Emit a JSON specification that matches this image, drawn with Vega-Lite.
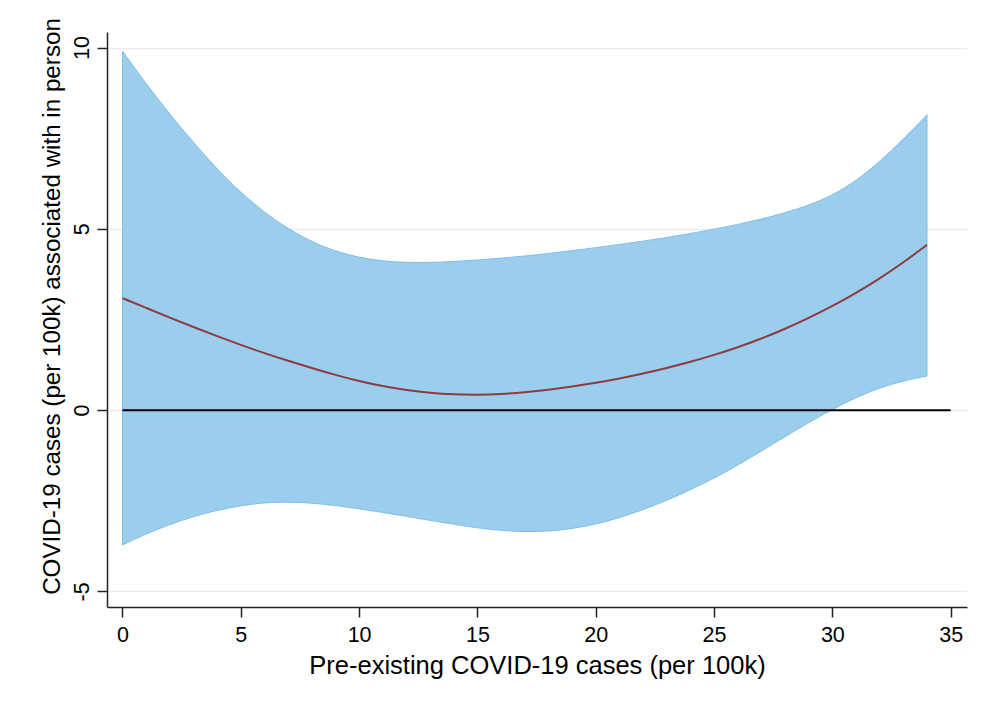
{
  "$schema": "https://vega.github.io/schema/vega-lite/v6.json",
  "width": 860,
  "height": 575,
  "autosize": "none",
  "padding": {"left": 107, "top": 32, "right": 14, "bottom": 112},
  "background": "white",
  "config": {"view": {"stroke": null}, "font": "Liberation Sans"},
  "datasets": {
    "band": [
      {"x": 0, "lo": -3.72, "hi": 9.9, "fit": 3.09},
      {"x": 1, "lo": -3.41, "hi": 9.0, "fit": 2.82},
      {"x": 2, "lo": -3.15, "hi": 8.16, "fit": 2.55},
      {"x": 3, "lo": -2.93, "hi": 7.38, "fit": 2.29},
      {"x": 4, "lo": -2.76, "hi": 6.64, "fit": 2.04},
      {"x": 5, "lo": -2.63, "hi": 6.0, "fit": 1.8},
      {"x": 6, "lo": -2.55, "hi": 5.45, "fit": 1.57},
      {"x": 7, "lo": -2.53, "hi": 5.0, "fit": 1.36},
      {"x": 8, "lo": -2.56, "hi": 4.64, "fit": 1.16},
      {"x": 9, "lo": -2.63, "hi": 4.38, "fit": 0.97},
      {"x": 10, "lo": -2.72, "hi": 4.21, "fit": 0.8},
      {"x": 11, "lo": -2.82, "hi": 4.11, "fit": 0.66},
      {"x": 12, "lo": -2.93, "hi": 4.07, "fit": 0.55},
      {"x": 13, "lo": -3.04, "hi": 4.07, "fit": 0.47},
      {"x": 14, "lo": -3.15, "hi": 4.1, "fit": 0.43},
      {"x": 15, "lo": -3.25, "hi": 4.14, "fit": 0.42},
      {"x": 16, "lo": -3.32, "hi": 4.19, "fit": 0.44},
      {"x": 17, "lo": -3.36, "hi": 4.25, "fit": 0.49},
      {"x": 18, "lo": -3.34, "hi": 4.32, "fit": 0.56},
      {"x": 19, "lo": -3.27, "hi": 4.4, "fit": 0.65},
      {"x": 20, "lo": -3.15, "hi": 4.48, "fit": 0.75},
      {"x": 21, "lo": -2.97, "hi": 4.57, "fit": 0.87},
      {"x": 22, "lo": -2.75, "hi": 4.66, "fit": 1.01},
      {"x": 23, "lo": -2.49, "hi": 4.76, "fit": 1.16},
      {"x": 24, "lo": -2.2, "hi": 4.87, "fit": 1.33},
      {"x": 25, "lo": -1.88, "hi": 4.99, "fit": 1.52},
      {"x": 26, "lo": -1.52, "hi": 5.12, "fit": 1.73},
      {"x": 27, "lo": -1.13, "hi": 5.27, "fit": 1.97},
      {"x": 28, "lo": -0.73, "hi": 5.44, "fit": 2.24},
      {"x": 29, "lo": -0.34, "hi": 5.65, "fit": 2.54},
      {"x": 30, "lo": 0.02, "hi": 5.92, "fit": 2.87},
      {"x": 31, "lo": 0.35, "hi": 6.32, "fit": 3.23},
      {"x": 32, "lo": 0.62, "hi": 6.85, "fit": 3.63},
      {"x": 33, "lo": 0.81, "hi": 7.47, "fit": 4.07},
      {"x": 34, "lo": 0.94, "hi": 8.15, "fit": 4.56}
    ],
    "ref": [{"x0": 0, "x1": 35, "y": 0}]
  },
  "layer": [
    {
      "data": {"name": "band"},
      "mark": {"type": "area", "color": "#9BCDED", "stroke": "#80BEE8", "strokeWidth": 1, "interpolate": "basis", "opacity": 1},
      "encoding": {
        "x": {
          "field": "x", "type": "quantitative",
          "scale": {"domain": [-0.655, 35.69], "nice": false, "zero": false},
          "axis": {
            "values": [0, 5, 10, 15, 20, 25, 30, 35],
            "title": "Pre-existing COVID-19 cases (per 100k)",
            "grid": false,
            "tickSize": 10, "tickWidth": 1.5, "tickColor": "#222",
            "domainColor": "#222", "domainWidth": 1.5,
            "labelFontSize": 21.5, "labelColor": "black", "labelPadding": 7,
            "titleFontSize": 25.5, "titleFontWeight": "normal", "titleColor": "black", "titlePadding": 8
          }
        },
        "y": {
          "field": "lo", "type": "quantitative",
          "scale": {"domain": [-5.43, 10.43], "nice": false, "zero": false},
          "axis": {
            "values": [-5, 0, 5, 10],
            "labelExpr": "'' + datum.value",
            "title": "COVID-19 cases (per 100k) associated with in person",
            "grid": true, "gridColor": "#E6EEF1", "gridWidth": 1.5,
            "tickSize": 10, "tickWidth": 1.5, "tickColor": "#222",
            "domainColor": "#222", "domainWidth": 1.5,
            "labelFontSize": 21.5, "labelColor": "black", "labelPadding": 9,
            "labelAngle": 270, "labelAlign": "center", "labelBaseline": "alphabetic",
            "titleFontSize": 24.2, "titleFontWeight": "normal", "titleColor": "black",
            "titleAngle": 270, "titleX": -55, "titleY": 274, "titleAlign": "center", "titleBaseline": "middle"
          }
        },
        "y2": {"field": "hi"}
      }
    },
    {
      "data": {"name": "band"},
      "mark": {"type": "line", "color": "#8E3A42", "strokeWidth": 2, "interpolate": "basis"},
      "encoding": {
        "x": {"field": "x", "type": "quantitative"},
        "y": {"field": "fit", "type": "quantitative"}
      }
    },
    {
      "data": {"name": "ref"},
      "mark": {"type": "rule", "color": "black", "strokeWidth": 2},
      "encoding": {
        "x": {"field": "x0", "type": "quantitative"},
        "x2": {"field": "x1"},
        "y": {"field": "y", "type": "quantitative"}
      }
    }
  ]
}
